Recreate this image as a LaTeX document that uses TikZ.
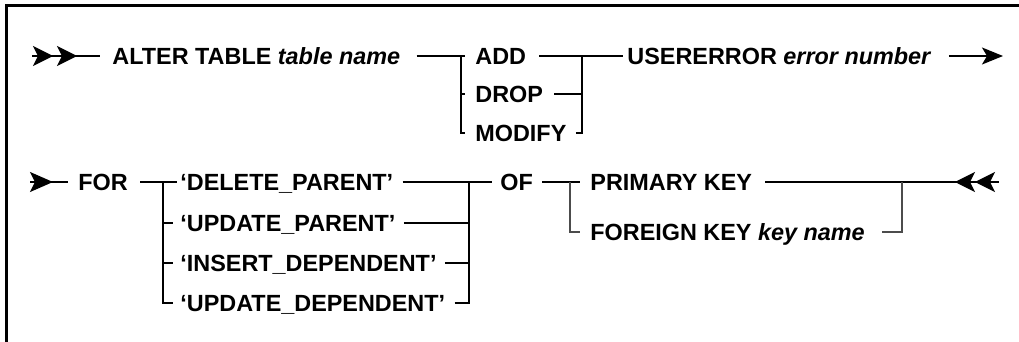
\documentclass[tikz,border=0pt]{standalone}
\usepackage{fontspec}
\setmainfont{Liberation Sans}
\usetikzlibrary{arrows.meta}
\begin{document}
\begin{tikzpicture}[x=0.5pt,y=-0.5pt,
  kw/.style={anchor=west,inner sep=0pt,text height=8.4pt,text depth=0pt,
    font=\bfseries\fontsize{11.7}{13}\selectfont},
  rail/.style={line width=0.75pt},
  railg/.style={line width=1pt,draw=black!70},
]
\useasboundingbox (0,0) rectangle (1019,342);
% frame
\draw[line width=1.5pt] (6.5,345) -- (6.5,6) -- (1022,6);

% ---- first line of the statement ----
\node[kw] (alter)  at (112,56)  {ALTER TABLE \textit{table name}};
\node[kw] (add)    at (475,56)  {ADD};
\node[kw] (drop)   at (475,94)  {DROP};
\node[kw] (modify) at (475,133) {MODIFY};
\node[kw] (user)   at (627,56)  {USERERROR \textit{error number}};

\coordinate (s1)  at (32,56);
\coordinate (s1t) at (77,56);
\coordinate (j1)  at (461,56);
\coordinate (j2)  at (582,56);
\coordinate (e1)  at (1003,56);

\draw[rail] (s1) -- ([xshift=-6pt]alter.west);
\draw[rail,-{Stealth[length=10pt,width=10pt,inset=2.5pt,sep=2pt]Stealth[length=10pt,width=10pt,inset=2.5pt]}] (s1) -- (s1t);
\draw[rail] ([xshift=8pt]alter.east) -- ([xshift=-5pt]add.west);
\draw[rail] (j1) |- ([xshift=-5pt]modify.west);
\draw[rail] (j1 |- drop.west) -- ([xshift=-5pt]drop.west);
\draw[rail] ([xshift=6.5pt]add.east) -- ([xshift=-2pt]user.west);
\draw[rail] ([xshift=5.5pt]drop.east) -- (j2 |- drop.west);
\draw[rail] ([xshift=4.5pt]modify.east) -| (j2);
\draw[rail,-{Stealth[length=10.5pt,width=8.5pt,inset=2.5pt]}] ([xshift=8.5pt]user.east) -- (e1);

% ---- second line of the statement ----
\node[kw] (for) at (78,182)  {FOR};
\node[kw] (del) at (180,182) {‘DELETE\_PARENT’};
\node[kw] (upp) at (180,223) {‘UPDATE\_PARENT’};
\node[kw] (ins) at (180,263) {‘INSERT\_DEPENDENT’};
\node[kw] (upd) at (180,303) {‘UPDATE\_DEPENDENT’};
\node[kw] (of)  at (500,182) {OF};
\node[kw] (pk)  at (590,182) {PRIMARY KEY};
\node[kw] (fk)  at (590,232) {FOREIGN KEY \textit{key name}};

\coordinate (s2)  at (30,182);
\coordinate (s2t) at (53,182);
\coordinate (j3)  at (163,182);
\coordinate (j4)  at (469,182);
\coordinate (j5)  at (570,182);
\coordinate (j6)  at (902,182);
\coordinate (t2)  at (955,182);
\coordinate (e2)  at (999,182);

\draw[rail] (s2) -- ([xshift=-5pt]for.west);
\draw[rail,-{Stealth[length=11.5pt,width=10pt,inset=2.5pt]}] (s2) -- (s2t);
\draw[rail] ([xshift=6pt]for.east) -- ([xshift=-1.5pt]del.west);
\draw[rail] (j3) |- ([xshift=-3.5pt]upd.west);
\draw[rail] (j3 |- upp.west) -- ([xshift=-3.5pt]upp.west);
\draw[rail] (j3 |- ins.west) -- ([xshift=-3.5pt]ins.west);
\draw[rail] ([xshift=4.5pt]del.east) -- ([xshift=-4pt]of.west);
\draw[rail] ([xshift=4pt]upp.east) -- (j4 |- upp.west);
\draw[rail] ([xshift=4pt]ins.east) -- (j4 |- ins.west);
\draw[rail] ([xshift=4.5pt]upd.east) -| (j4);
\draw[rail] ([xshift=4.5pt]of.east) -- ([xshift=-5pt]pk.west);
\draw[railg] (j5) |- ([xshift=-5pt]fk.west);
\draw[rail] ([xshift=6.5pt]pk.east) -- (e2);
\draw[railg] ([xshift=8.5pt]fk.east) -| (j6);
\draw[rail,{Stealth[length=10pt,width=10pt,inset=2.5pt]Stealth[length=10pt,width=10pt,inset=2.5pt]}-] (t2) -- (e2);
\end{tikzpicture}
\end{document}
